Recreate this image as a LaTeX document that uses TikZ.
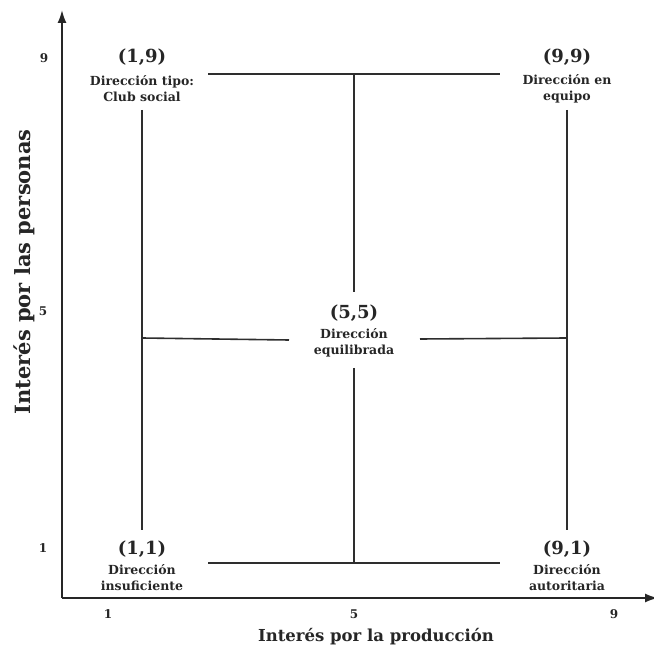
\documentclass[tikz,border=0pt]{standalone}
\usepackage{fontspec}
\setmainfont{DejaVu Serif}
\usetikzlibrary{arrows.meta}
\begin{document}
\begin{tikzpicture}[x=1pt,y=-1pt,
  axis/.style={line width=1.8pt,draw=black!85,-{Latex[length=13pt,width=9pt]}},
  grid/.style={line width=1.6pt,draw=black!82},
  coord/.style={font=\fontsize{18}{18}\selectfont\bfseries,text=black!85,inner sep=0pt},
  lab/.style={font=\fontsize{12.5}{16}\selectfont\bfseries,text=black!85,align=center,inner sep=0pt},
  tick/.style={font=\fontsize{12}{12}\selectfont\bfseries,text=black!85,inner sep=0pt},
  title/.style={font=\fontsize{16.5}{16.5}\selectfont\bfseries,text=black!85,inner sep=0pt},
  ytitle/.style={font=\fontsize{21}{21}\selectfont\bfseries,text=black!85,inner sep=0pt}]
\useasboundingbox (0,0) rectangle (654,652);
% axes
\coordinate (O) at (62,598);
\coordinate (Ytop) at (62,10);
\coordinate (Xend) at (658,598);
\draw[axis] (O) -- (Ytop);
\draw[axis] (O) -- (Xend);
% ticks
\node[tick] (ty9) at (44,58) {9};
\node[tick] (ty5) at (43,311) {5};
\node[tick] (ty1) at (43,548) {1};
\node[tick] (tx1) at (108,614) {1};
\node[tick] (tx5) at (354,614) {5};
\node[tick] (tx9) at (614,614) {9};
% titles
\node[title] (xt) at (376,637) {Interés por la producción};
\node[ytitle,rotate=90] (yt) at (24,272) {Interés por las personas};
% labels
\node[coord] (c19) at (142,57) {(1,9)};
\node[lab] (l19) at (142,89) {Dirección tipo:\\Club social};
\node[coord] (c99) at (567,57) {(9,9)};
\node[lab] (l99) at (567,89) {Dirección en\\equipo};
\node[coord] (c55) at (354,313) {(5,5)};
\node[lab] (l55) at (354,343) {Dirección\\equilibrada};
\node[coord] (c11) at (142,549) {(1,1)};
\node[lab] (l11) at (142,578) {Dirección\\insuficiente};
\node[coord] (c91) at (567,549) {(9,1)};
\node[lab] (l91) at (567,578) {Dirección\\autoritaria};
% grid line endpoints
\coordinate (tl) at (208,74);
\coordinate (tm) at (354,74);
\coordinate (tr) at (500,74);
\coordinate (bl) at (208,563);
\coordinate (bm) at (354,563);
\coordinate (br) at (500,563);
\coordinate (lt) at (142,110);
\coordinate (lm) at (142,338);
\coordinate (lb) at (142,530);
\coordinate (rt) at (567,110);
\coordinate (rm) at (567,338);
\coordinate (rb) at (567,530);
\coordinate (mt) at (354,292);
\coordinate (mb) at (354,368);
\coordinate (ml) at (289,340);
\coordinate (mr) at (420,339);
\draw[grid] (tl) -- (tr);
\draw[grid] (bl) -- (br);
\draw[grid] (lt) -- (lb);
\draw[grid] (rt) -- (rb);
\draw[grid] (tm) -- (mt);
\draw[grid] (mb) -- (bm);
\draw[grid] (lm) -- (ml);
\draw[grid] (mr) -- (rm);
\end{tikzpicture}
\end{document}
